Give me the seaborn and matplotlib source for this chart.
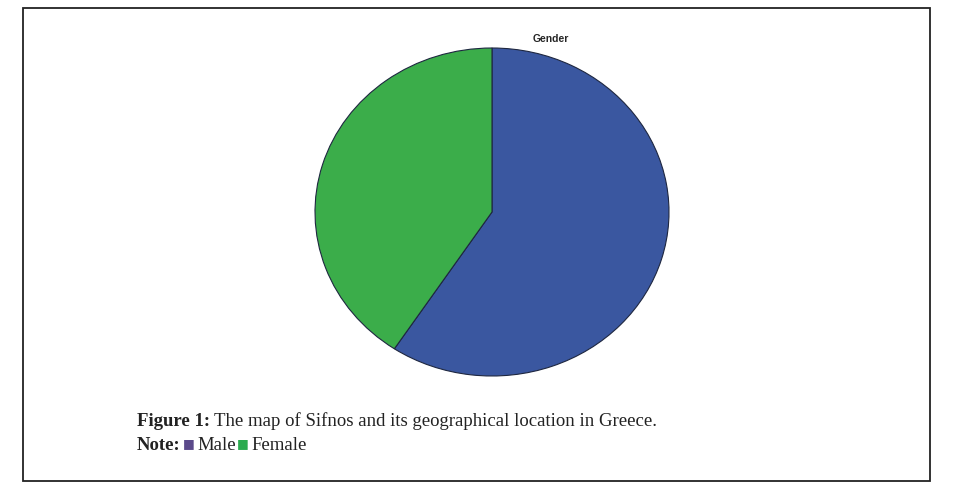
import seaborn as sns
import matplotlib.pyplot as plt
from matplotlib.patches import Rectangle

# data
labels = ['Male', 'Female']
shares = [59.3, 40.7]
colors = ['#3a57a0', '#3bad4a']
legend_colors = ['#5b4a8b', '#2bab4f']

sns.set_style('white')
W, H = 972, 501
fig = plt.figure(figsize=(W / 100, H / 100), dpi=100)

def fx(px):
    return px / W

def fy(py):
    return 1 - py / H

# pie axes: ellipse centre (492,212), rx 177, ry 164
ax = fig.add_axes([fx(492 - 177), fy(212 + 164), 354 / W, 328 / H])
ax.pie(shares, colors=colors, startangle=90, counterclock=False,
       wedgeprops=dict(edgecolor='#1e2740', linewidth=0.8))
ax.set_aspect('auto')
ax.set_xlim(-1.0, 1.0)
ax.set_ylim(-1.0, 1.0)
ax.axis('off')

fig.text(fx(551), fy(39), 'Gender', ha='center', va='center',
         fontsize=7.5, fontweight='bold', family=['Liberation Sans', 'DejaVu Sans'])

# frame
fig.patches.append(Rectangle((fx(23), fy(481)), fx(930) - fx(23), fy(8) - fy(481),
                             transform=fig.transFigure, fill=False,
                             edgecolor='#222222', linewidth=1.3))

serif = ['Liberation Serif', 'DejaVu Serif']
fs = 13.5
fig.text(fx(137), fy(421), 'Figure 1:', ha='left', va='center', fontsize=fs,
         fontweight='bold', family=serif, color='#222222')
fig.text(fx(214), fy(421), 'The map of Sifnos and its geographical location in Greece.',
         ha='left', va='center', fontsize=fs, family=serif, color='#222222')
fig.text(fx(137), fy(445), 'Note:', ha='left', va='center', fontsize=fs,
         fontweight='bold', family=serif, color='#222222')
fig.text(fx(183), fy(444), '\u25a0', ha='left', va='center', fontsize=9,
         family=['DejaVu Sans'], color=legend_colors[0])
fig.text(fx(197), fy(445), labels[0], ha='left', va='center', fontsize=fs,
         family=serif, color='#222222')
fig.text(fx(237), fy(444), '\u25a0', ha='left', va='center', fontsize=9,
         family=['DejaVu Sans'], color=legend_colors[1])
fig.text(fx(251), fy(445), labels[1], ha='left', va='center', fontsize=fs,
         family=serif, color='#222222')

fig.savefig('out.png', dpi=100)
